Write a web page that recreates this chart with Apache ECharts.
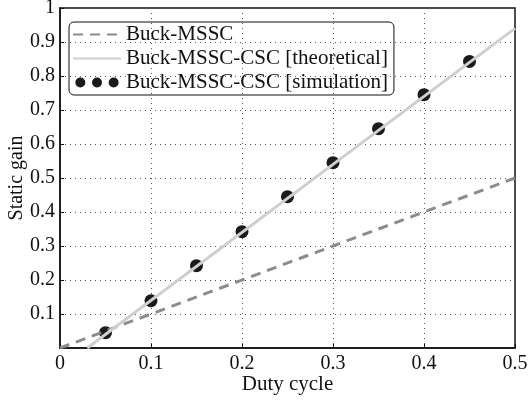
<!DOCTYPE html>
<html>
<head>
<meta charset="utf-8">
<script src="https://cdn.jsdelivr.net/npm/echarts@6/dist/echarts.min.js"></script>
<style>
html,body{margin:0;padding:0;background:#fff;}
#main{width:529px;height:401px;}
</style>
</head>
<body>
<div id="main"></div>
<script>
// data
const mssc = [[0, 0], [0.5, 0.5]];
const cscTheory = [[0.03, 0], [0.5, 0.94]];
const simDuty = [0.05, 0.1, 0.15, 0.2, 0.25, 0.3, 0.35, 0.4, 0.45];
const simGain = [0.045, 0.139, 0.242, 0.342, 0.445, 0.545, 0.645, 0.745, 0.843];

const names = ['Buck-MSSC', 'Buck-MSSC-CSC [theoretical]', 'Buck-MSSC-CSC [simulation]'];
const font = 'Liberation Serif';

let chart = echarts.init(document.getElementById('main'), null, {renderer: 'canvas'});

function fmt(v) {
  return parseFloat(v.toFixed(1)).toString();
}

const threeDots = 'path://M6,0A6,6 0 1 1 5.99,0ZM26,0A6,6 0 1 1 25.99,0ZM46,0A6,6 0 1 1 45.99,0Z';

chart.setOption({
  animation: false,
  textStyle: {fontFamily: font},
  grid: {
    left: 60, right: 14, top: 8, bottom: 53,
    outerBoundsMode: 'none',
    containLabel: false,
    show: true, borderColor: '#111', borderWidth: 1.5
  },
  legend: {
    left: 69, top: 22,
    orient: 'vertical',
    itemWidth: 48, itemHeight: 10,
    itemGap: 3,
    padding: [2, 6, 2, 3],
    borderColor: '#111', borderWidth: 1, borderRadius: 5,
    textStyle: {fontFamily: font, fontSize: 21, color: '#111'},
    data: [
      {name: names[0], itemStyle: {opacity: 0}},
      {name: names[1], itemStyle: {opacity: 0}},
      {name: names[2], icon: threeDots}
    ]
  },
  xAxis: {
    type: 'value', min: 0, max: 0.5, interval: 0.1,
    name: 'Duty cycle', nameLocation: 'middle', nameGap: 26,
    nameMoveOverlap: false,
    nameTextStyle: {fontFamily: font, fontSize: 21, color: '#111'},
    axisLine: {show: true, lineStyle: {color: '#111', width: 1.5}},
    axisTick: {show: true, inside: true, length: 4, lineStyle: {color: '#111'}},
    axisLabel: {fontFamily: font, fontSize: 20, color: '#111', margin: 6, formatter: fmt},
    splitLine: {show: true, lineStyle: {color: '#555', type: [1, 4], width: 1}}
  },
  yAxis: {
    type: 'value', min: 0, max: 1, interval: 0.1,
    name: 'Static gain', nameLocation: 'middle', nameGap: 33,
    nameMoveOverlap: false,
    nameTextStyle: {fontFamily: font, fontSize: 20, color: '#111'},
    axisLine: {show: true, lineStyle: {color: '#111', width: 1.5}},
    axisTick: {show: true, inside: true, length: 4, lineStyle: {color: '#111'}},
    axisLabel: {
      fontFamily: font, fontSize: 20, color: '#111', margin: 5,
      formatter: v => (v === 0 ? '' : fmt(v))
    },
    splitLine: {show: true, lineStyle: {color: '#555', type: [1, 4], width: 1}}
  },
  series: [
    {
      name: names[0], type: 'line', data: mssc,
      symbol: 'none',
      lineStyle: {color: '#8c8c8c', width: 3, type: [10, 7]},
      itemStyle: {color: '#8c8c8c'}
    },
    {
      name: names[1], type: 'line', data: cscTheory,
      symbol: 'none',
      lineStyle: {color: '#cfcfcf', width: 3},
      itemStyle: {color: '#cfcfcf'}
    },
    {
      name: names[2], type: 'scatter',
      data: simDuty.map((d, i) => [d, simGain[i]]),
      symbolSize: 13,
      itemStyle: {color: '#1a1a1a', opacity: 1, borderWidth: 0, borderColor: '#1a1a1a'}
    }
  ]
});
</script>
</body>
</html>
